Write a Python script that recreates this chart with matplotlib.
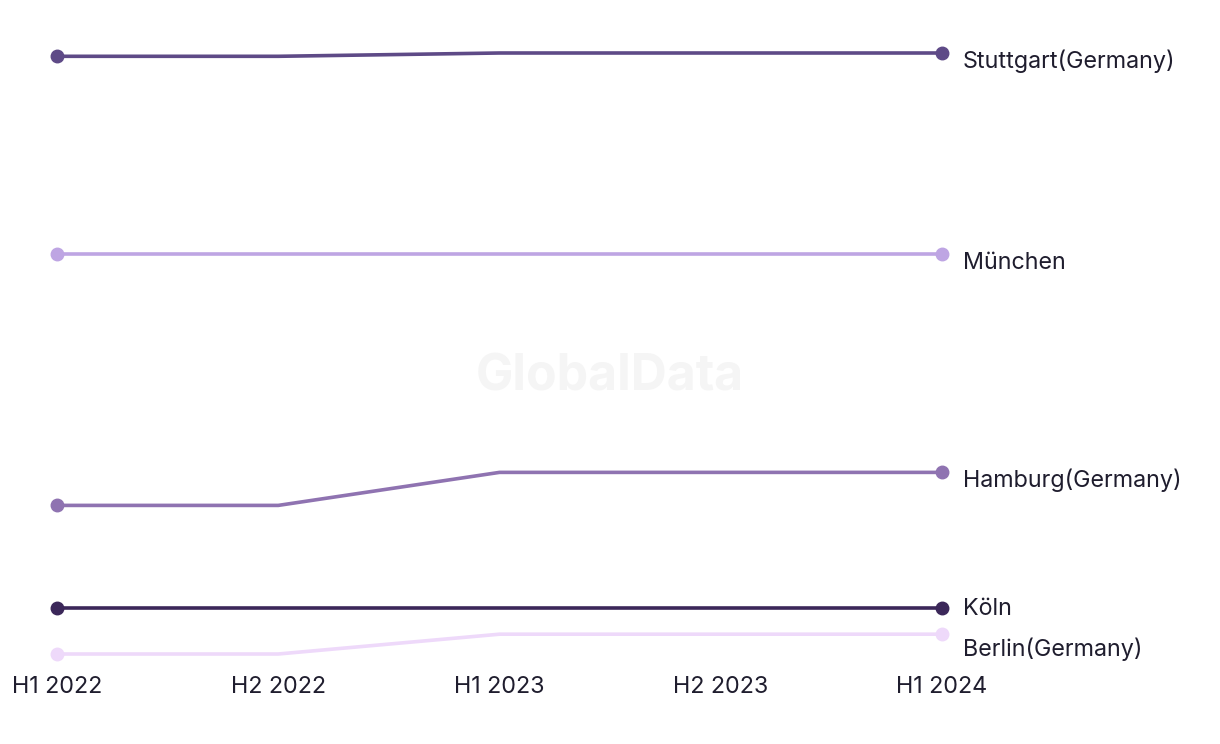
import matplotlib.pyplot as plt

periods = ["H1 2022", "H2 2022", "H1 2023", "H2 2023", "H1 2024"]
cities = ["Stuttgart(Germany)", "München", "Hamburg(Germany)", "Köln", "Berlin(Germany)"]
stuttgart = [26.0, 26.0, 26.1, 26.1, 26.1]
muenchen = [20.0, 20.0, 20.0, 20.0, 20.0]
hamburg = [12.4, 12.4, 13.4, 13.4, 13.4]
koeln = [9.3, 9.3, 9.3, 9.3, 9.3]
berlin = [7.9, 7.9, 8.5, 8.5, 8.5]
series = [stuttgart, muenchen, hamburg, koeln, berlin]
colors = ["#5e4a87", "#bea5e3", "#8f73b1", "#3b2759", "#eed9fa"]
# vertical nudge of end labels (points, negative = down)
label_shift = [-6, -6, -6, -1, -11]

plt.rcParams["font.family"] = ["Inter", "DejaVu Sans"]
text_color = "#1f1d2e"

fig = plt.figure(figsize=(12.2, 7.44), dpi=100)
ax = fig.add_axes([57 / 1220, 1 - 654 / 744, (942 - 57) / 1220, (654 - 53) / 744])

x = list(range(len(periods)))
for vals, c, name, dy in zip(series, colors, cities, label_shift):
    ax.plot(x, vals, color=c, lw=2.6, solid_capstyle="round", clip_on=False, zorder=2)
    ax.plot([x[0], x[-1]], [vals[0], vals[-1]], "o", color=c, ms=9, clip_on=False, zorder=3)
    ax.annotate(name, (x[-1], vals[-1]), xytext=(15, dy), textcoords="offset points",
                ha="left", va="center", fontsize=16.8, color=text_color)

ax.set_xlim(0, 4)
ax.set_ylim(7.9, 26.1)
ax.set_xticks(x)
ax.set_xticklabels(periods, fontsize=16.8, color=text_color)
ax.tick_params(axis="x", length=0, pad=16)
ax.set_yticks([])
for s in ax.spines.values():
    s.set_visible(False)

fig.text(0.5, 1 - 377 / 744, "GlobalData", ha="center", va="center",
         fontsize=36, fontweight="bold", color="#f5f5f5", zorder=0)

fig.savefig("out.png", dpi=100)
